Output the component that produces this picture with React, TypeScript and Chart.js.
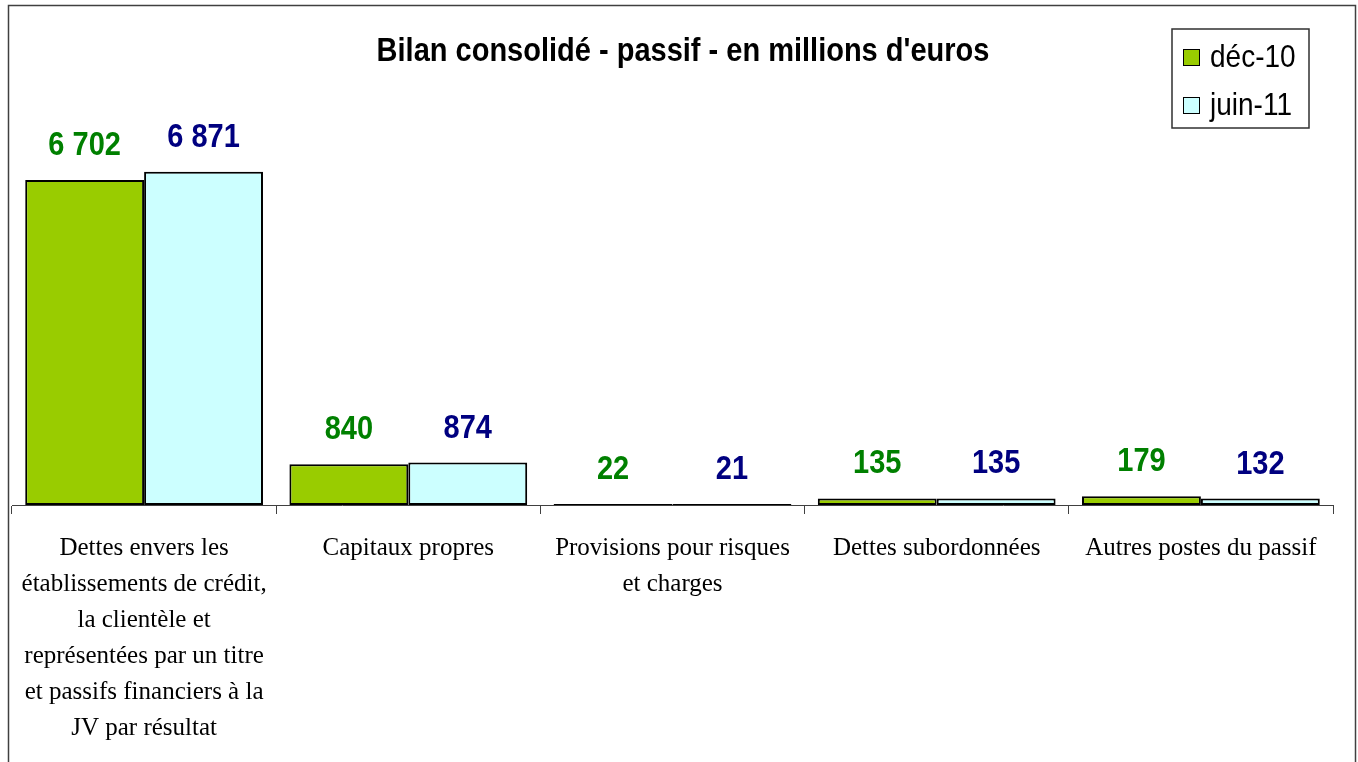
import React, { useEffect, useRef } from "react";
import { Chart, registerables } from "chart.js";

Chart.register(...registerables);

const categories: string[][] = [
  [
    "Dettes envers les",
    "établissements de crédit,",
    "la clientèle et",
    "représentées par un titre",
    "et passifs financiers à la",
    "JV par résultat",
  ],
  ["Capitaux propres"],
  ["Provisions pour risques", "et charges"],
  ["Dettes subordonnées"],
  ["Autres postes du passif"],
];
const seriesNames = ["déc-10", "juin-11"];
const dec10 = [6702, 840, 22, 135, 179];
const juin11 = [6871, 874, 21, 135, 132];
const yMax = 8000;
const chartTitle = "Bilan consolidé - passif - en millions d'euros";

const fillColors = ["#99CC00", "#CCFFFF"];
const labelColors = ["#008000", "#000080"];

const SANS = '"Liberation Sans", Arial, sans-serif';
const SERIF = '"Liberation Serif", "Times New Roman", serif';

function fmt(v: number): string {
  return String(v).replace(/\B(?=(\d{3})+(?!\d))/g, " ");
}

function tallText(ctx: any, text: string, x: number, y: number, sy: number) {
  ctx.save();
  ctx.translate(x, y);
  ctx.scale(1, sy);
  ctx.fillText(text, 0, 0);
  ctx.restore();
}

const decorPlugin = {
  id: "decor",
  beforeDraw(chart: any) {
    const ctx = chart.ctx;
    ctx.save();
    ctx.fillStyle = "#ffffff";
    ctx.fillRect(0, 0, chart.width, chart.height);
    ctx.restore();
  },
  afterDraw(chart: any) {
    const ctx = chart.ctx;
    ctx.save();
    // outer frame
    ctx.strokeStyle = "#404040";
    ctx.lineWidth = 1.5;
    ctx.strokeRect(8.5, 5.5, 1347, 900);

    // title
    ctx.fillStyle = "#000000";
    ctx.textAlign = "center";
    ctx.textBaseline = "middle";
    ctx.font = `bold 29px ${SANS}`;
    tallText(ctx, chartTitle, 683, 52, 1.15);

    // value labels
    ctx.font = `bold 29px ${SANS}`;
    chart.data.datasets.forEach((ds: any, i: number) => {
      const meta = chart.getDatasetMeta(i);
      meta.data.forEach((bar: any, j: number) => {
        ctx.fillStyle = labelColors[i];
        tallText(ctx, fmt(ds.data[j]), bar.x, bar.y - 34, 1.12);
      });
    });

    // legend
    ctx.strokeStyle = "#303030";
    ctx.lineWidth = 1.5;
    ctx.strokeRect(1172, 29, 137, 99);
    ctx.textAlign = "left";
    ctx.textBaseline = "alphabetic";
    ctx.font = `28px ${SANS}`;
    const rows = [
      { y: 49, base: 67 },
      { y: 97, base: 115 },
    ];
    seriesNames.forEach((name, i) => {
      ctx.fillStyle = fillColors[i];
      ctx.fillRect(1183, rows[i].y, 16, 16);
      ctx.strokeStyle = "#000000";
      ctx.lineWidth = 1;
      ctx.strokeRect(1183.5, rows[i].y + 0.5, 16, 16);
      ctx.fillStyle = "#000000";
      tallText(ctx, name, 1210, rows[i].base, 1.1);
    });
    ctx.restore();
  },
};

export default function App() {
  const ref = useRef<HTMLCanvasElement | null>(null);

  useEffect(() => {
    if (!ref.current) return;
    const chart = new Chart(ref.current, {
      type: "bar",
      data: {
        labels: categories,
        datasets: [
          {
            label: seriesNames[0],
            data: dec10,
            backgroundColor: fillColors[0],
            borderColor: "#000000",
            borderWidth: 2,
            borderSkipped: false,
            categoryPercentage: 0.9,
            barPercentage: 1,
          },
          {
            label: seriesNames[1],
            data: juin11,
            backgroundColor: fillColors[1],
            borderColor: "#000000",
            borderWidth: 2,
            borderSkipped: false,
            categoryPercentage: 0.9,
            barPercentage: 1,
          },
        ],
      },
      options: {
        responsive: false,
        animation: false,
        devicePixelRatio: 1,
        layout: { padding: { top: 117, left: 12, right: 25, bottom: 0 } },
        plugins: {
          legend: { display: false },
          title: { display: false },
          tooltip: { enabled: false },
        },
        scales: {
          x: {
            type: "category",
            offset: true,
            grid: {
              display: true,
              offset: true,
              drawOnChartArea: false,
              drawTicks: true,
              tickLength: 9,
              color: "#404040",
              lineWidth: 1,
            },
            border: { display: true, color: "#404040", width: 1 },
            ticks: {
              color: "#000000",
              font: { family: SERIF, size: 25, lineHeight: "36px" },
              padding: 16,
              maxRotation: 0,
              minRotation: 0,
              autoSkip: false,
            },
            afterFit: (scale: any) => {
              scale.height = 257;
            },
          },
          y: {
            display: false,
            min: 0,
            max: yMax,
          },
        },
      },
      plugins: [decorPlugin],
    });
    return () => chart.destroy();
  }, []);

  return (
    <div style={{ position: "absolute", left: 0, top: 0, width: 1358, height: 762, overflow: "hidden" }}>
      <canvas ref={ref} width={1358} height={762} style={{ display: "block" }} />
    </div>
  );
}
